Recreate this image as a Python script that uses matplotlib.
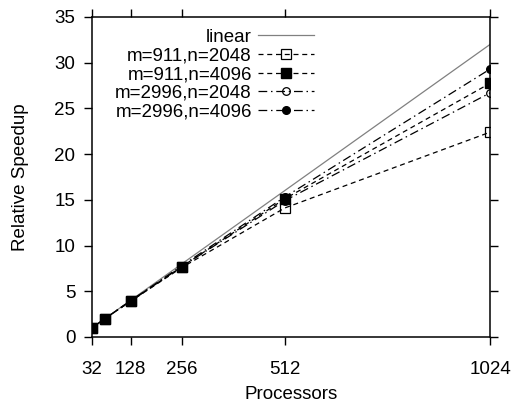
import matplotlib
matplotlib.use("Agg")
import matplotlib.pyplot as plt

plt.rcParams['font.family'] = ['Liberation Sans', 'DejaVu Sans']
plt.rcParams['font.size'] = 13.5

procs = [32, 64, 128, 256, 512, 1024]
linear = [p / 32.0 for p in procs]
m911_n2048 = [1.0, 2.0, 3.9, 7.6, 14.1, 22.4]
m911_n4096 = [1.0, 2.0, 3.95, 7.7, 15.1, 27.75]
m2996_n2048 = [1.0, 2.0, 3.9, 7.7, 14.9, 26.7]
m2996_n4096 = [1.0, 2.0, 3.95, 7.8, 15.3, 29.3]

xticks = [32, 128, 256, 512, 1024]
yticks = [0, 5, 10, 15, 20, 25, 30, 35]

fig = plt.figure(figsize=(5.17, 4.04), dpi=100)
ax = fig.add_axes([0.178, 0.166, 0.770, 0.792])

dash = (0, (4, 3))
dashdot = (0, (7, 3, 1.2, 3))

ax.plot(procs, linear, color='#808080', lw=0.9, label='linear', zorder=2)
ax.plot(procs, m911_n2048, color='black', lw=0.9, ls=dash, marker='s', ms=7,
        mfc='none', mec='black', mew=0.9, label='m=911,n=2048', zorder=3)
ax.plot(procs, m911_n4096, color='black', lw=0.9, ls=dash, marker='s', ms=7,
        mfc='black', mec='black', label='m=911,n=4096', zorder=6)
ax.plot(procs, m2996_n2048, color='black', lw=0.9, ls=dashdot, marker='o', ms=5.5,
        mfc='none', mec='black', mew=0.9, label='m=2996,n=2048', zorder=4)
ax.plot(procs, m2996_n4096, color='black', lw=0.9, ls=dashdot, marker='o', ms=5.5,
        mfc='black', mec='black', label='m=2996,n=4096', zorder=5)

ax.set_xlim(32, 1024)
ax.set_ylim(0, 35)
ax.set_xticks(xticks)
ax.set_yticks(yticks)
ax.tick_params(direction='out', length=6, width=1.0, top=True, right=True,
               labeltop=False, labelright=False, pad=6)
ax.tick_params(axis='x', pad=11)
for s in ax.spines.values():
    s.set_linewidth(1.1)

ax.set_xlabel('Processors', labelpad=6)
ax.set_ylabel('Relative Speedup', labelpad=18)

ax.legend(loc='upper right', bbox_to_anchor=(0.557, 0.963), frameon=False,
          markerfirst=False, handlelength=3.0, handletextpad=0.3,
          labelspacing=0.08, borderpad=0, borderaxespad=0)

fig.savefig('out.png', dpi=100)
